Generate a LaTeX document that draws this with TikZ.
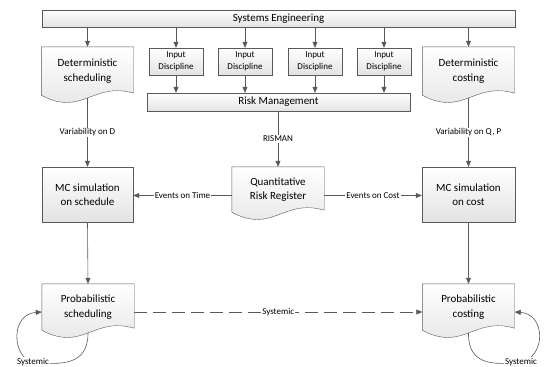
\documentclass[tikz,border=0pt]{standalone}
\usepackage{fontspec}
\setmainfont{Carlito}
\usetikzlibrary{arrows.meta}
\pgfdeclarelayer{background}
\pgfsetlayers{background,main}
\definecolor{linegray}{HTML}{595959}
% outline of a document shape behind a named node
\newcommand{\docshape}[1]{%
	\begin{pgfonlayer}{background}
	\draw[draw=linegray,top color=white,bottom color=gray!22] (#1.south west)
	.. controls +(41pt,-22pt) and +(-41pt,12pt) .. ([yshift=2pt]#1.south east)
	-- (#1.north east) -- (#1.north west) -- cycle;
	\end{pgfonlayer}}

\begin{document}
\begin{tikzpicture}[x=1pt,y=-1pt,
	box/.style={draw=linegray,top color=white,bottom color=gray!22,align=center,inner sep=1pt,font=\fontsize{11}{14.5}\selectfont},
	doc/.style={align=center,inner sep=1pt,minimum width=92pt,font=\fontsize{11}{14.5}\selectfont},
	small/.style={box,font=\fontsize{9}{12}\selectfont,minimum width=54pt,minimum height=27pt},
	arr/.style={draw=linegray,line width=0.6pt,-{Triangle[length=6pt,width=5pt]}},
	lbl/.style={fill=white,inner sep=1pt,font=\fontsize{9}{10}\selectfont}]
	\useasboundingbox (0,0) rectangle (547,367);
	% systems engineering and disciplines
	\node[box,minimum width=473pt,minimum height=17pt] (se) at (278.5,18.5) {Systems Engineering};
	\node[small] (in1) at (176,61.5) {Input\\Discipline};
	\node[small] (in2) at (245,61.5) {Input\\Discipline};
	\node[small] (in3) at (315,61.5) {Input\\Discipline};
	\node[small] (in4) at (384,61.5) {Input\\Discipline};
	\node[box,minimum width=263pt,minimum height=18pt] (rm) at (278.5,102) {Risk Management};
	% deterministic inputs
	\node[doc,minimum height=48pt] (ds) at (87.5,71) {Deterministic\\scheduling};
	\node[doc,minimum height=48pt] (dc) at (468.5,71) {Deterministic\\costing};
	\docshape{ds}
	\docshape{dc}
	% register and simulations
	\node[doc,minimum height=45pt] (qrr) at (278,189.5) {Quantitative\\Risk Register};
	\docshape{qrr}
	\node[box,minimum width=91pt,minimum height=55pt] (mcs) at (87.5,194.5) {MC simulation\\on schedule};
	\node[box,minimum width=93pt,minimum height=55pt] (mcc) at (468.5,194.5) {MC simulation\\on cost};
	% results
	\node[doc,minimum height=46pt] (ps) at (88,307) {Probabilistic\\scheduling};
	\node[doc,minimum height=46pt] (pc) at (468.5,307) {Probabilistic\\costing};
	\docshape{ps}
	\docshape{pc}
	% connectors
	\foreach \n in {ds,in1,in2,in3,in4,dc}
		\draw[arr] (\n.north |- se.south) -- (\n.north);
	\foreach \n in {in1,in2,in3,in4}
		\draw[arr] (\n.south) -- (\n.south |- rm.north);
	\draw[arr] (qrr.north |- rm.south) -- node[lbl] (rl) {RISMAN} (qrr.north);
	\draw[arr] ([yshift=-3pt]ds.south) -- node[lbl] (vd) {Variability on D} (mcs.north);
	\draw[arr] ([yshift=-3pt]dc.south) -- node[lbl] (vq) {Variability on Q, P} (mcc.north);
	\coordinate (qt) at ([yshift=-6pt]qrr.west);
	\coordinate (qc) at ([yshift=-6pt]qrr.east);
	\draw[arr] (qt) -- node[lbl] (et) {Events on Time} (mcs.east |- qt);
	\draw[arr] (qc) -- node[lbl] (ec) {Events on Cost} (mcc.west |- qc);
	\draw[arr] (mcs.south) -- (ps.north);
	\draw[arr] (mcc.south) -- (pc.north);
	% systemic feedback
	\coordinate (pe) at ([yshift=-5pt]ps.east);
	\draw[arr,dash pattern=on 13pt off 6pt] (pe) -- node[lbl] (sm) {Systemic} (pc.west |- pe);
	\draw[arr] ([yshift=-3pt]ps.south) .. controls (88,366) and (60,365) .. (33,362)
		node[lbl] (sl) {Systemic} .. controls (12,358) and (10,314) .. ([yshift=-5pt]ps.west);
	\draw[arr] ([yshift=-3pt]pc.south) .. controls (468,366) and (495,365) .. (521,362)
		node[lbl] (sr) {Systemic} .. controls (546,357) and (546,314) .. ([yshift=-5pt]pc.east);
\end{tikzpicture}
\end{document}
